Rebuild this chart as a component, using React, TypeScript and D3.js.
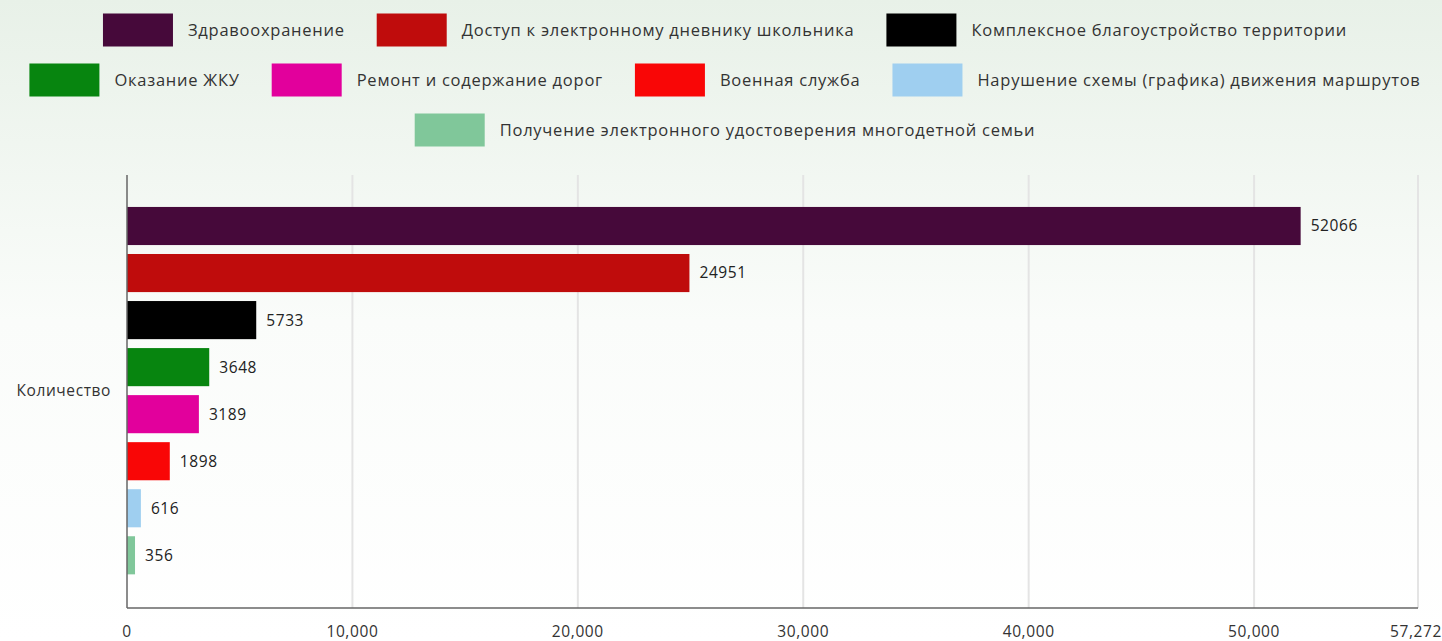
import React, { useMemo } from "react";
import * as d3 from "d3";

const categories = [
  "Здравоохранение",
  "Доступ к электронному дневнику школьника",
  "Комплексное благоустройство территории",
  "Оказание ЖКУ",
  "Ремонт и содержание дорог",
  "Военная служба",
  "Нарушение схемы (графика) движения маршрутов",
  "Получение электронного удостоверения многодетной семьи",
];
const values = [52066, 24951, 5733, 3648, 3189, 1898, 616, 356];
const colors = ["#46093a", "#bf0c0c", "#000000", "#07850f", "#e2009c", "#f90606", "#9fcff0", "#80c79a"];
const xTicks = [0, 10000, 20000, 30000, 40000, 50000, 57272];
const xMax = 57272;
const groupLabel = "Количество";
const legendRows = [[0, 1, 2], [3, 4, 5, 6], [7]];

const W = 1442;
const H = 641;
const FONT = "'Open Sans', 'Noto Sans', sans-serif";
const FS = 15.5;
const LS = 0.6;
const LFS = 16.5;
const LLS = 0.75;

function measure(text: string): number {
  const c = document.createElement("canvas");
  const ctx = c.getContext("2d")!;
  ctx.font = `${LFS}px ${FONT}`;
  return ctx.measureText(text).width + LLS * text.length;
}

export default function App() {
  const x = d3.scaleLinear().domain([0, xMax]).range([127, 1418]);
  const y = d3.scaleBand<number>().domain(d3.range(values.length)).range([204.6, 576.7]).paddingInner(0.19).paddingOuter(0.05);

  const legend = useMemo(() => {
    const sw = 70, gapT = 15, gapI = 32;
    const items: { i: number; x: number; cy: number }[] = [];
    legendRows.forEach((row, r) => {
      const widths = row.map((i) => sw + gapT + measure(categories[i]));
      const total = d3.sum(widths) + gapI * (row.length - 1);
      let cx = 725 - total / 2;
      row.forEach((i, k) => {
        items.push({ i, x: cx, cy: 30 + r * 50 });
        cx += widths[k] + gapI;
      });
    });
    return items;
  }, []);

  const fmt = d3.format(",");

  return (
    <svg width={W} height={H} style={{ position: "absolute", left: 0, top: 0 }} fontFamily={FONT} fontSize={FS} letterSpacing={LS}>
      <defs>
        <linearGradient id="bg" x1="0" y1="0" x2="0" y2="1">
          <stop offset="0" stopColor="#e8f1e8" />
          <stop offset="0.5" stopColor="#fafcfa" />
          <stop offset="1" stopColor="#ffffff" />
        </linearGradient>
      </defs>
      <rect x={0} y={0} width={W} height={H} fill="url(#bg)" />
      {legend.map((l) => (
        <g key={l.i}>
          <rect x={l.x} y={l.cy - 16.5} width={70} height={33} fill={colors[l.i]} />
          <text x={l.x + 85} y={l.cy} dy="0.35em" fill="#333" fontSize={LFS} letterSpacing={LLS}>{categories[l.i]}</text>
        </g>
      ))}
      {xTicks.map((t) => (
        <g key={t}>
          {t > 0 && <line x1={x(t)} x2={x(t)} y1={175} y2={608} stroke="#e4e4e4" strokeWidth={2} />}
          <text x={x(t)} y={637} textAnchor={t === xMax ? "end" : "middle"} dx={t === xMax ? 24 : 0} fill="#333">{fmt(t)}</text>
        </g>
      ))}
      {values.map((v, i) => (
        <g key={i}>
          <rect x={x(0)} y={y(i)!} width={x(v) - x(0)} height={y.bandwidth()} fill={colors[i]} />
          <text x={x(v) + 10} y={y(i)! + y.bandwidth() / 2} dy="0.35em" fill="#222">{v}</text>
        </g>
      ))}
      <line x1={127} x2={127} y1={175} y2={608} stroke="#666" strokeWidth={1.5} />
      <line x1={127} x2={1418} y1={608} y2={608} stroke="#666" strokeWidth={1.5} />
      <text x={111} y={391} textAnchor="end" dy="0.35em" fill="#333">{groupLabel}</text>
    </svg>
  );
}
